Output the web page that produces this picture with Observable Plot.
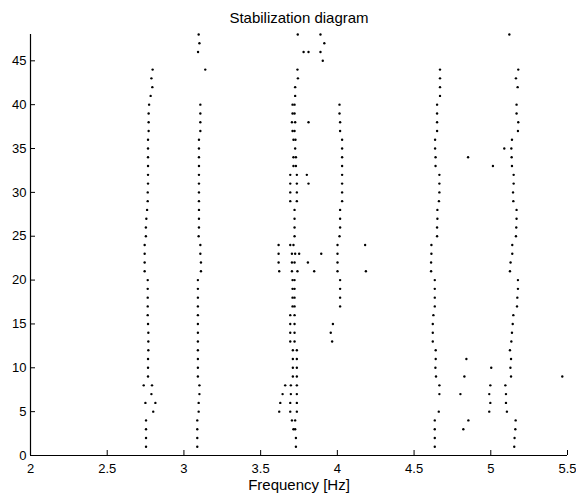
<!DOCTYPE html>
<html><head><meta charset="utf-8">
<script src="https://cdn.jsdelivr.net/npm/d3@7"></script>
<script src="https://cdn.jsdelivr.net/npm/@observablehq/plot@0.6"></script>
<style>body{margin:0;background:#fff;} svg{display:block}</style>
</head><body><div id="chart"></div>
<script>
const title = "Stabilization diagram";
const xLabel = "Frequency [Hz]";
const xTicks = [2, 2.5, 3, 3.5, 4, 4.5, 5, 5.5];
const yTicks = [0, 5, 10, 15, 20, 25, 30, 35, 40, 45];

// [model order, frequency (Hz)]
const mode1 = [[44,2.796],[43,2.788],[42,2.794],[41,2.783],[40,2.773],[39,2.770],[38,2.770],[37,2.770],[36,2.766],[35,2.766],[34,2.766],[33,2.766],[32,2.766],[31,2.766],[30,2.764],[29,2.764],[28,2.760],[27,2.755],[26,2.752],[25,2.752],[24,2.744],[23,2.744],[22,2.744],[21,2.744],[20,2.764],[19,2.764],[18,2.764],[17,2.764],[16,2.764],[15,2.766],[14,2.768],[13,2.768],[12,2.768],[11,2.766],[10,2.766],[9,2.766],[8,2.738],[8,2.792],[7,2.788],[6,2.749],[6,2.814],[5,2.800],[4,2.753],[3,2.753],[2,2.753],[1,2.753]];
const mode2 = [[48,3.096],[47,3.101],[46,3.092],[44,3.139],[40,3.107],[39,3.107],[38,3.107],[37,3.107],[36,3.098],[35,3.098],[34,3.098],[33,3.098],[32,3.098],[31,3.098],[30,3.098],[29,3.098],[28,3.098],[27,3.098],[26,3.098],[25,3.096],[24,3.107],[23,3.107],[22,3.111],[21,3.111],[20,3.091],[19,3.091],[18,3.091],[17,3.091],[16,3.091],[15,3.091],[14,3.091],[13,3.091],[12,3.091],[11,3.091],[10,3.091],[9,3.091],[8,3.101],[7,3.101],[6,3.096],[5,3.096],[4,3.087],[3,3.087],[2,3.087],[1,3.087]];
const mode3 = [[48,3.742],[44,3.740],[43,3.743],[42,3.725],[41,3.725],[40,3.708],[40,3.721],[39,3.708],[39,3.721],[38,3.704],[38,3.725],[37,3.708],[37,3.721],[36,3.714],[36,3.727],[35,3.725],[34,3.714],[34,3.730],[33,3.714],[33,3.730],[32,3.693],[32,3.736],[31,3.693],[31,3.736],[30,3.693],[30,3.736],[29,3.693],[29,3.736],[28,3.721],[27,3.721],[26,3.721],[25,3.721],[24,3.693],[24,3.714],[23,3.704],[23,3.725],[22,3.704],[22,3.721],[21,3.704],[21,3.740],[20,3.708],[20,3.721],[19,3.708],[19,3.721],[18,3.708],[18,3.721],[17,3.708],[17,3.721],[16,3.693],[16,3.721],[15,3.693],[15,3.721],[14,3.693],[14,3.721],[13,3.693],[13,3.721],[12,3.710],[12,3.736],[11,3.710],[11,3.736],[10,3.710],[10,3.736],[9,3.710],[9,3.736],[8,3.697],[8,3.736],[7,3.697],[7,3.736],[6,3.693],[6,3.736],[5,3.693],[5,3.736],[4,3.704],[4,3.725],[3,3.714],[3,3.725],[2,3.730],[1,3.730]];
const mode4 = [[40,4.014],[39,4.014],[38,4.018],[37,4.018],[36,4.031],[35,4.031],[34,4.031],[33,4.031],[32,4.031],[31,4.031],[30,4.031],[29,4.031],[28,4.018],[27,4.018],[26,4.018],[25,4.014],[24,4.001],[23,4.001],[22,4.001],[21,4.001],[20,4.018],[19,4.018],[18,4.018],[17,4.018],[15,3.971],[14,3.957],[13,3.966]];
const mode5 = [[44,4.669],[43,4.669],[42,4.669],[41,4.669],[40,4.650],[39,4.650],[38,4.650],[37,4.650],[36,4.637],[35,4.637],[34,4.640],[33,4.640],[32,4.665],[31,4.665],[30,4.665],[29,4.662],[28,4.652],[27,4.652],[26,4.650],[25,4.650],[24,4.613],[23,4.613],[22,4.611],[21,4.611],[20,4.635],[19,4.635],[18,4.635],[17,4.635],[16,4.626],[15,4.622],[14,4.622],[13,4.622],[12,4.641],[11,4.641],[10,4.639],[9,4.643],[8,4.665],[7,4.665],[5,4.661],[4,4.635],[3,4.635],[2,4.635],[1,4.635]];
const mode6 = [[44,5.179],[43,5.164],[42,5.175],[40,5.168],[39,5.168],[38,5.179],[37,5.177],[36,5.138],[35,5.134],[34,5.136],[33,5.138],[32,5.149],[31,5.149],[30,5.145],[29,5.147],[28,5.168],[27,5.168],[26,5.166],[25,5.164],[24,5.140],[23,5.140],[22,5.129],[21,5.125],[20,5.177],[19,5.177],[18,5.173],[17,5.171],[16,5.147],[15,5.143],[14,5.138],[13,5.134],[12,5.125],[11,5.132],[10,5.128],[9,5.132],[8,5.095],[7,5.099],[6,5.099],[5,5.105],[4,5.162],[3,5.160],[2,5.155],[1,5.153]];
const spurious = [[48,3.890],[47,3.915],[46,3.780],[46,3.812],[46,3.890],[45,3.905],[38,3.812],[32,3.801],[31,3.812],[24,3.617],[23,3.617],[22,3.617],[21,3.621],[23,3.751],[22,3.808],[21,3.849],[23,3.895],[24,4.181],[21,4.186],[8,3.660],[7,3.643],[6,3.628],[5,3.621],[48,5.121],[35,5.088],[34,4.852],[33,5.014],[11,4.841],[10,5.003],[9,4.828],[9,5.466],[8,4.997],[7,4.802],[7,4.990],[6,4.997],[5,4.990],[4,4.854],[3,4.821]];

const W = 576, H = 499, mt = 34, mb = 44, ml = 30, mr = 9;
const innerW = W - ml - mr, innerH = H - mt - mb;
const font = '"Liberation Sans", Arial, Helvetica, sans-serif';
const points = [...mode1, ...mode2, ...mode3, ...mode4, ...mode5, ...mode6, ...spurious]
  .map(([order, freq]) => ({order, freq}));

const chart = Plot.plot({
  width: W, height: H,
  marginTop: mt, marginBottom: mb, marginLeft: ml, marginRight: mr,
  style: {fontFamily: font, fontSize: "13px", background: "white", color: "black"},
  x: {domain: [2, 5.5]},
  y: {domain: [0, 48]},
  marks: [
    Plot.axisX(xTicks, {tickSize: 0, tickPadding: 8, fontSize: 13, label: null, tickFormat: d => String(d)}),
    Plot.axisY(yTicks, {tickSize: 0, tickPadding: 4, fontSize: 13, label: null, tickFormat: d => String(d)}),
    Plot.tickX(xTicks, {x: d => d, insetTop: innerH - 5, stroke: "black"}),
    Plot.tickY(yTicks, {y: d => d, insetRight: innerW - 5, stroke: "black"}),
    Plot.ruleY([0], {stroke: "black", strokeWidth: 1.2}),
    Plot.ruleX([2], {stroke: "black", strokeWidth: 1.2}),
    Plot.dot(points, {x: "freq", y: "order", r: 1.2, fill: "black", stroke: null}),
    Plot.text([title], {frameAnchor: "top", dy: -16, fontSize: 15, lineAnchor: "middle"}),
    Plot.text([xLabel], {frameAnchor: "bottom", dy: 30, fontSize: 15, lineAnchor: "middle"})
  ]
});
document.getElementById("chart").appendChild(chart);
</script>
</body></html>
